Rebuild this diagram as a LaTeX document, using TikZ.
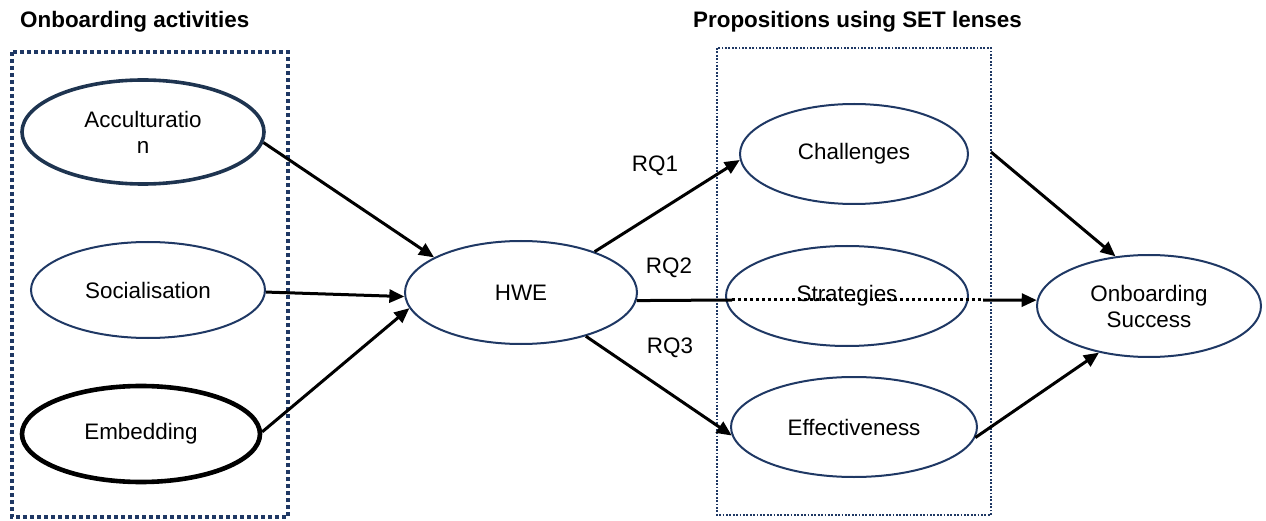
\documentclass[tikz,border=0pt]{standalone}
\usepackage{fontspec}
\setmainfont{Liberation Sans}
\usetikzlibrary{shapes.geometric,arrows.meta}
\definecolor{navy}{RGB}{31,56,100}
\definecolor{accnavy}{RGB}{30,52,80}
\begin{document}
\begin{tikzpicture}[x=1pt,y=-1pt,
  oval/.style={ellipse,draw=navy,line width=2pt,inner sep=0pt,align=center,
    font=\fontsize{22.4}{26}\selectfont},
  title/.style={font=\fontsize{22.4}{26}\selectfont\bfseries,inner sep=0pt},
  rq/.style={font=\fontsize{22.4}{26}\selectfont,inner sep=0pt},
  conn/.style={line width=3pt,-{Triangle[length=15pt,width=13pt]}},
  plain/.style={line width=3pt},
  dotline/.style={line width=3pt,dash pattern=on 3pt off 3pt},
  bigbox/.style={draw=navy,line width=3.8pt,dash pattern=on 3.6pt off 3.4pt},
  smallbox/.style={draw=navy,line width=1.9pt,dash pattern=on 1.8pt off 1.6pt}]
\useasboundingbox (0,0) rectangle (1266,521);
% titles
\node[title,anchor=west] (t1) at (20,22) {Onboarding activities};
\node[title,anchor=east] (t2) at (1022,22) {Propositions using SET lenses};
% boxes
\draw[bigbox] (12,52) rectangle (288,517);
\draw[smallbox] (717,48) rectangle (991,515);
% left ellipses
\node[oval,draw=accnavy,line width=3.6pt,minimum width=242pt,minimum height=104pt] (acc) at (143,132) {Acculturatio\\n};
\node[oval,minimum width=234pt,minimum height=96pt] (soc) at (148,290) {Socialisation};
\node[oval,draw=black,line width=4.6pt,minimum width=238pt,minimum height=96pt] (emb) at (141,434) {Embedding};
% center
\node[oval,minimum width=232pt,minimum height=103pt] (hwe) at (521,292.5) {HWE};
% right column
\node[oval,minimum width=228pt,minimum height=100pt] (chal) at (854,154) {Challenges};
\node[oval,minimum width=242pt,minimum height=100pt] (strat) at (847,296) {Strategies};
\node[oval,minimum width=246pt,minimum height=100pt] (eff) at (854,427) {Effectiveness};
\node[oval,minimum width=224pt,minimum height=102pt] (os) at (1149,306) {Onboarding\\Success};
% labels
\node[rq] (rq1) at (655,166) {RQ1};
\node[rq] (rq2) at (669,268) {RQ2};
\node[rq] (rq3) at (670,348) {RQ3};
% coordinates
\coordinate (s1) at (732,300);
\coordinate (s2) at (983,300);
\coordinate (c1) at (991,152);
% connectors
\draw[conn] (acc.-5) -- (hwe.158);
\draw[conn] (soc.-1) -- (hwe.182);
\draw[conn] (emb.1) -- (hwe.188);
\draw[conn] (hwe.29) -- (chal.183);
\draw[conn] (hwe.-34) -- (eff.184);
\draw[plain] (hwe.-4) -- (s1);
\draw[dotline] (s1) -- (s2);
\draw[conn] (s2) -- (os.177);
\draw[conn] (c1) -- (os.124);
\draw[conn] (eff.-5) -- (os.223);
\end{tikzpicture}
\end{document}
